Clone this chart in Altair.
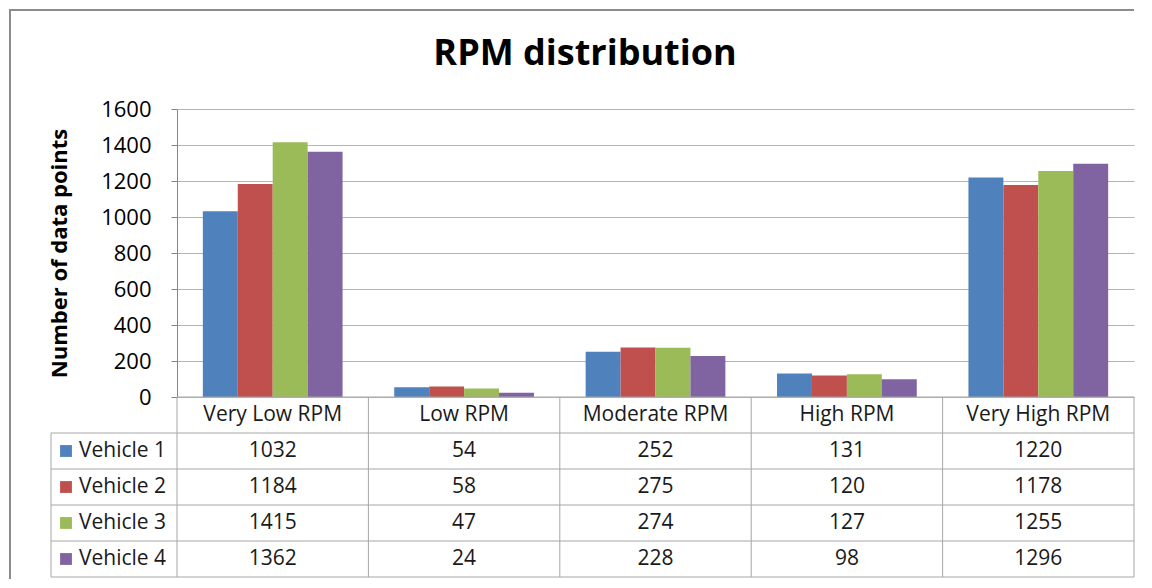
import altair as alt
import pandas as pd

categories = ["Very Low RPM", "Low RPM", "Moderate RPM", "High RPM", "Very High RPM"]
vehicles = ["Vehicle 1", "Vehicle 2", "Vehicle 3", "Vehicle 4"]
values = {
    "Vehicle 1": [1032, 54, 252, 131, 1220],
    "Vehicle 2": [1184, 58, 275, 120, 1178],
    "Vehicle 3": [1415, 47, 274, 127, 1255],
    "Vehicle 4": [1362, 24, 228, 98, 1296],
}
colors = ["#4F81BD", "#C0504D", "#9BBB59", "#8064A2"]
y_ticks = [0, 200, 400, 600, 800, 1000, 1200, 1400, 1600]

FONT = "Open Sans"
W = 957
H = 288
TH = 180
ROW = TH / 5
LEFTCOL = 126
BORDER = "#8c8c8c"
GRID = "#b4b4b4"
TABLE = "#a6a6a6"

rows = []
for vi, v in enumerate(vehicles):
    for ci, c in enumerate(categories):
        rows.append({"cat": c, "veh": v, "val": values[v][ci], "ci": ci + 0.5, "ri": vi + 1.5})
df = pd.DataFrame(rows)
cat_df = pd.DataFrame({"cat": categories, "ci": [i + 0.5 for i in range(len(categories))]})
veh_df = pd.DataFrame({"veh": vehicles, "ri": [i + 1.5 for i in range(len(vehicles))]})
one = pd.DataFrame({"a": [0]})

color_scale = alt.Scale(domain=vehicles, range=colors)
noview = alt.ViewConfig(stroke="transparent", strokeWidth=0)

bars = alt.Chart(df).mark_bar().encode(
    x=alt.X("cat:N", sort=categories, axis=None,
            scale=alt.Scale(paddingInner=0.27, paddingOuter=0.135)),
    xOffset=alt.XOffset("veh:N", sort=vehicles),
    y=alt.Y("val:Q", scale=alt.Scale(domain=[0, 1600], nice=False),
            axis=alt.Axis(values=y_ticks, format="d", title="Number of data points",
                          titleFont=FONT, titleFontSize=22, titleFontWeight="bold",
                          titleColor="#000", titleX=-118, titleY=H / 2,
                          titleAlign="center", titleBaseline="middle", titleAngle=-90,
                          labelFont=FONT, labelFontSize=22, labelColor="#000",
                          labelPadding=20, tickSize=6, tickColor="#868686",
                          domainColor="#868686", gridColor=GRID, grid=True)),
    color=alt.Color("veh:N", scale=color_scale, legend=None),
)

title = alt.Chart(one).mark_text(text="RPM distribution", font=FONT, fontSize=36,
                                 fontWeight="bold", color="#000", align="center",
                                 baseline="middle").encode(
    x=alt.value(408), y=alt.value(-55))

border_left_top = alt.Chart(one).mark_rule(color=BORDER, strokeWidth=2).encode(
    x=alt.value(-167), y=alt.value(-100), y2=alt.value(H))
border_top = alt.Chart(one).mark_rule(color=BORDER, strokeWidth=2).encode(
    x=alt.value(-168), x2=alt.value(W), y=alt.value(-99))

top = alt.layer(border_left_top, border_top, title, bars).properties(
    width=W, height=H, view=noview)

xs = alt.Scale(domain=[0, 5], nice=False, zero=False)
ys = alt.Scale(domain=[0, 5], nice=False, zero=False, reverse=True)

header = alt.Chart(cat_df).mark_text(font=FONT, fontSize=21, color="#1a1a1a",
                                     baseline="middle").encode(
    x=alt.X("ci:Q", scale=xs, axis=None), y=alt.value(ROW / 2), text="cat:N")
cells = alt.Chart(df).mark_text(font=FONT, fontSize=21, color="#1a1a1a",
                                baseline="middle").encode(
    x=alt.X("ci:Q", scale=xs, axis=None),
    y=alt.Y("ri:Q", scale=ys, axis=None), text="val:Q")
squares = alt.Chart(veh_df).mark_square(size=140, opacity=1).encode(
    x=alt.value(-111), y=alt.Y("ri:Q", scale=ys, axis=None),
    color=alt.Color("veh:N", scale=color_scale, legend=None))
leg_text = alt.Chart(veh_df).mark_text(font=FONT, fontSize=21, color="#1a1a1a",
                                       align="left", baseline="middle").encode(
    x=alt.value(-98), y=alt.Y("ri:Q", scale=ys, axis=None), text="veh:N")

vlines = alt.Chart(pd.DataFrame({"xv": [0, 1, 2, 3, 4, 5]})).mark_rule(color=TABLE).encode(
    x=alt.X("xv:Q", scale=xs, axis=None), y=alt.value(0), y2=alt.value(TH))
left_vline = alt.Chart(one).mark_rule(color=TABLE).encode(
    x=alt.value(-LEFTCOL), y=alt.value(ROW), y2=alt.value(TH))
top_hline = alt.Chart(one).mark_rule(color=TABLE).encode(
    x=alt.value(0), x2=alt.value(W), y=alt.value(0))
hlines = alt.Chart(pd.DataFrame({"yv": [1, 2, 3, 4, 5]})).mark_rule(color=TABLE).encode(
    x=alt.value(-LEFTCOL), x2=alt.value(W), y=alt.Y("yv:Q", scale=ys, axis=None))
border_left_bot = alt.Chart(one).mark_rule(color=BORDER, strokeWidth=2).encode(
    x=alt.value(-167), y=alt.value(0), y2=alt.value(TH + 2))

table = alt.layer(border_left_bot, vlines, left_vline, top_hline, hlines,
                  header, cells, squares, leg_text).properties(
    width=W, height=TH, view=noview)

chart = alt.vconcat(top, table, spacing=0, bounds="flush").resolve_scale(
    x="independent", y="independent", color="shared"
).properties(
    padding={"left": 0, "top": 0, "right": 0, "bottom": 0}
).configure_view(stroke="transparent", strokeWidth=0).configure(background="transparent")

chart.save("out.html", embed_options={"renderer": "svg", "actions": False})
